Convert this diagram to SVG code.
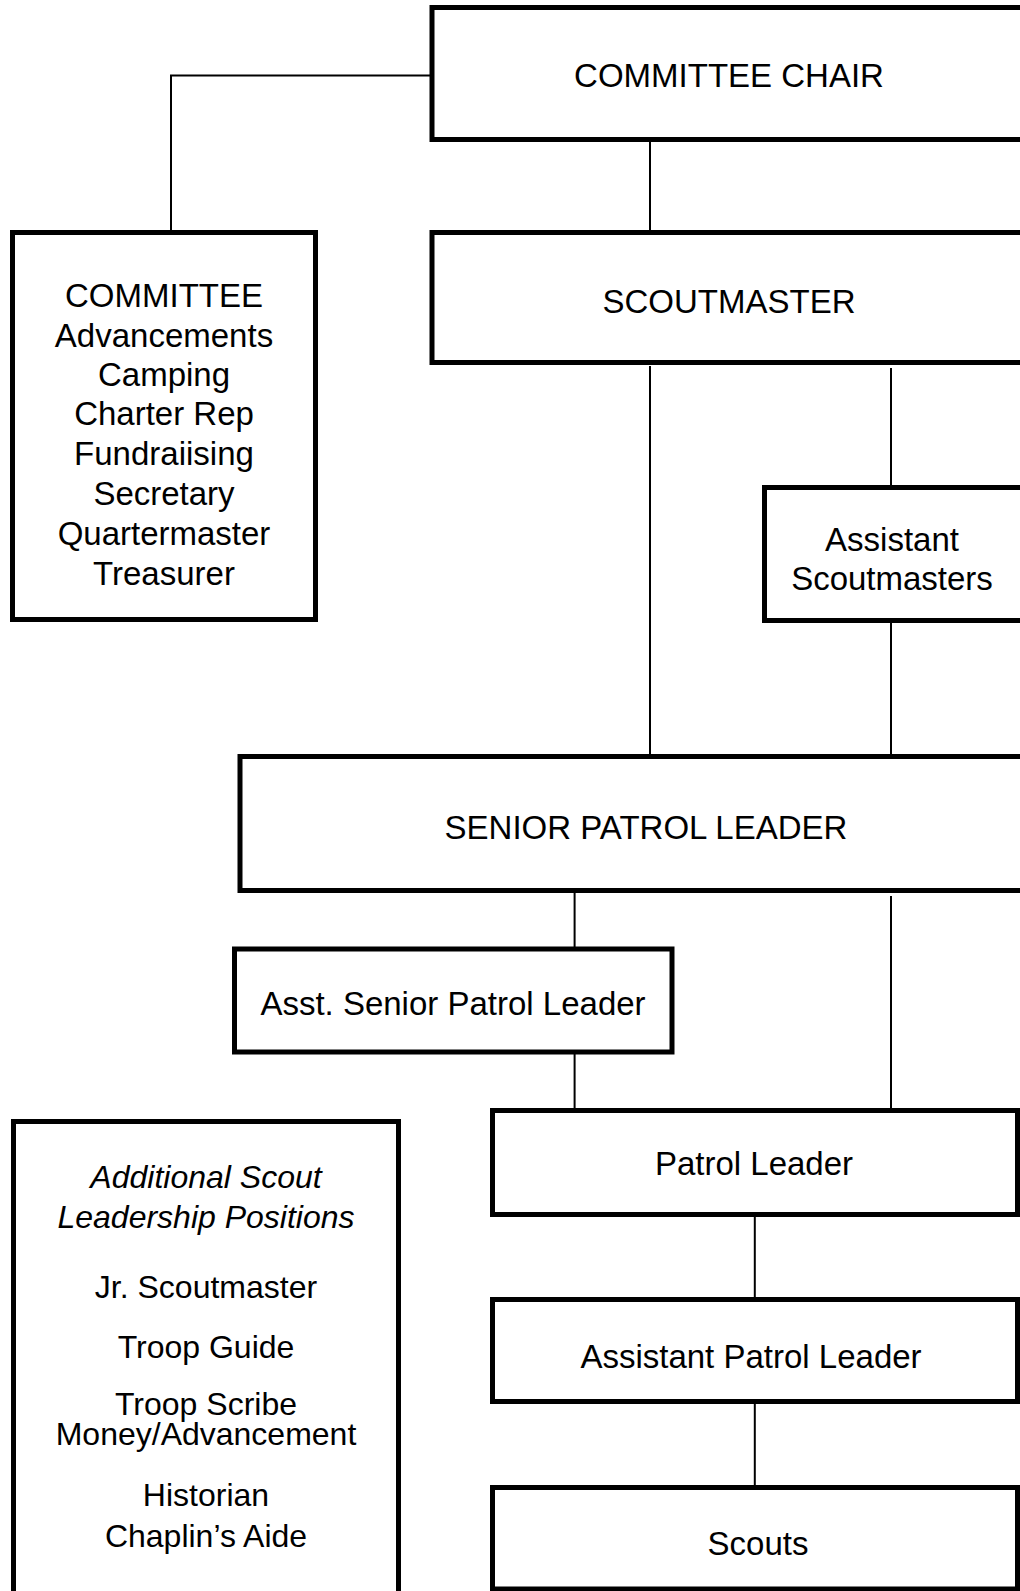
<svg xmlns="http://www.w3.org/2000/svg" width="1020" height="1591" viewBox="0 0 1020 1591">
<style>
.box{fill:#fff;stroke:#000;stroke-width:5}
.t{font-family:"Liberation Sans",Arial,sans-serif;font-size:33px;fill:#000;text-anchor:middle}
.s{font-size:32px}
.i{font-style:italic}
.c{fill:none;stroke:#000;stroke-width:2}
</style>
<rect width="1020" height="1591" fill="#fff"/>
<g id="connectors">
<path class="c" d="M171 232V75.5H432"/>
<path class="c" d="M650 141V232"/>
<path class="c" d="M650 366V756"/>
<path class="c" d="M891 368V487"/>
<path class="c" d="M891 622V756"/>
<path class="c" d="M574.6 892V949"/>
<path class="c" d="M891 896V1110"/>
<path class="c" d="M574.6 1053V1110"/>
<path class="c" d="M754.8 1216V1299"/>
<path class="c" d="M754.8 1403V1487"/>
</g>
<g id="committee-chair">
<rect class="box" x="432" y="7.5" width="620" height="132"/>
<text class="t" x="729" y="87">COMMITTEE CHAIR</text>
</g>
<g id="committee">
<rect class="box" x="12.5" y="232.5" width="303" height="387"/>
<text class="t" x="164" y="307">COMMITTEE</text>
<text class="t" x="164" y="347">Advancements</text>
<text class="t" x="164" y="386">Camping</text>
<text class="t" x="164" y="425">Charter Rep</text>
<text class="t" x="164" y="465">Fundraiising</text>
<text class="t" x="164" y="505">Secretary</text>
<text class="t" x="164" y="545">Quartermaster</text>
<text class="t" x="164" y="585">Treasurer</text>
</g>
<g id="scoutmaster">
<rect class="box" x="432" y="232.5" width="620" height="130"/>
<text class="t" x="729" y="313">SCOUTMASTER</text>
</g>
<g id="assistant-scoutmasters">
<rect class="box" x="764.5" y="487.5" width="300" height="133"/>
<text class="t" x="892" y="551">Assistant</text>
<text class="t" x="892" y="590">Scoutmasters</text>
</g>
<g id="senior-patrol-leader">
<rect class="box" x="240" y="756.5" width="820" height="134"/>
<text class="t" x="646" y="839">SENIOR PATROL LEADER</text>
</g>
<g id="asst-senior-patrol-leader">
<rect class="box" x="234.5" y="949" width="437.5" height="103"/>
<text class="t" x="453" y="1015">Asst. Senior Patrol Leader</text>
</g>
<g id="patrol-leader">
<rect class="box" x="492.5" y="1110.5" width="525" height="104"/>
<text class="t" x="754" y="1175">Patrol Leader</text>
</g>
<g id="assistant-patrol-leader">
<rect class="box" x="492.5" y="1299.5" width="525" height="102"/>
<text class="t" x="751" y="1368">Assistant Patrol Leader</text>
</g>
<g id="scouts">
<rect class="box" x="492.5" y="1487.5" width="525" height="101.5"/>
<text class="t" x="758" y="1555">Scouts</text>
</g>
<g id="additional-positions">
<rect class="box" x="13.5" y="1121.5" width="385" height="520"/>
<text class="t s i" x="206" y="1188">Additional Scout</text>
<text class="t s i" x="206" y="1228">Leadership Positions</text>
<text class="t s" x="206" y="1298">Jr. Scoutmaster</text>
<text class="t s" x="206" y="1358">Troop Guide</text>
<text class="t s" x="206" y="1415">Troop Scribe</text>
<text class="t s" x="206" y="1445">Money/Advancement</text>
<text class="t s" x="206" y="1506">Historian</text>
<text class="t s" x="206" y="1547">Chaplin’s Aide</text>
</g>
</svg>
